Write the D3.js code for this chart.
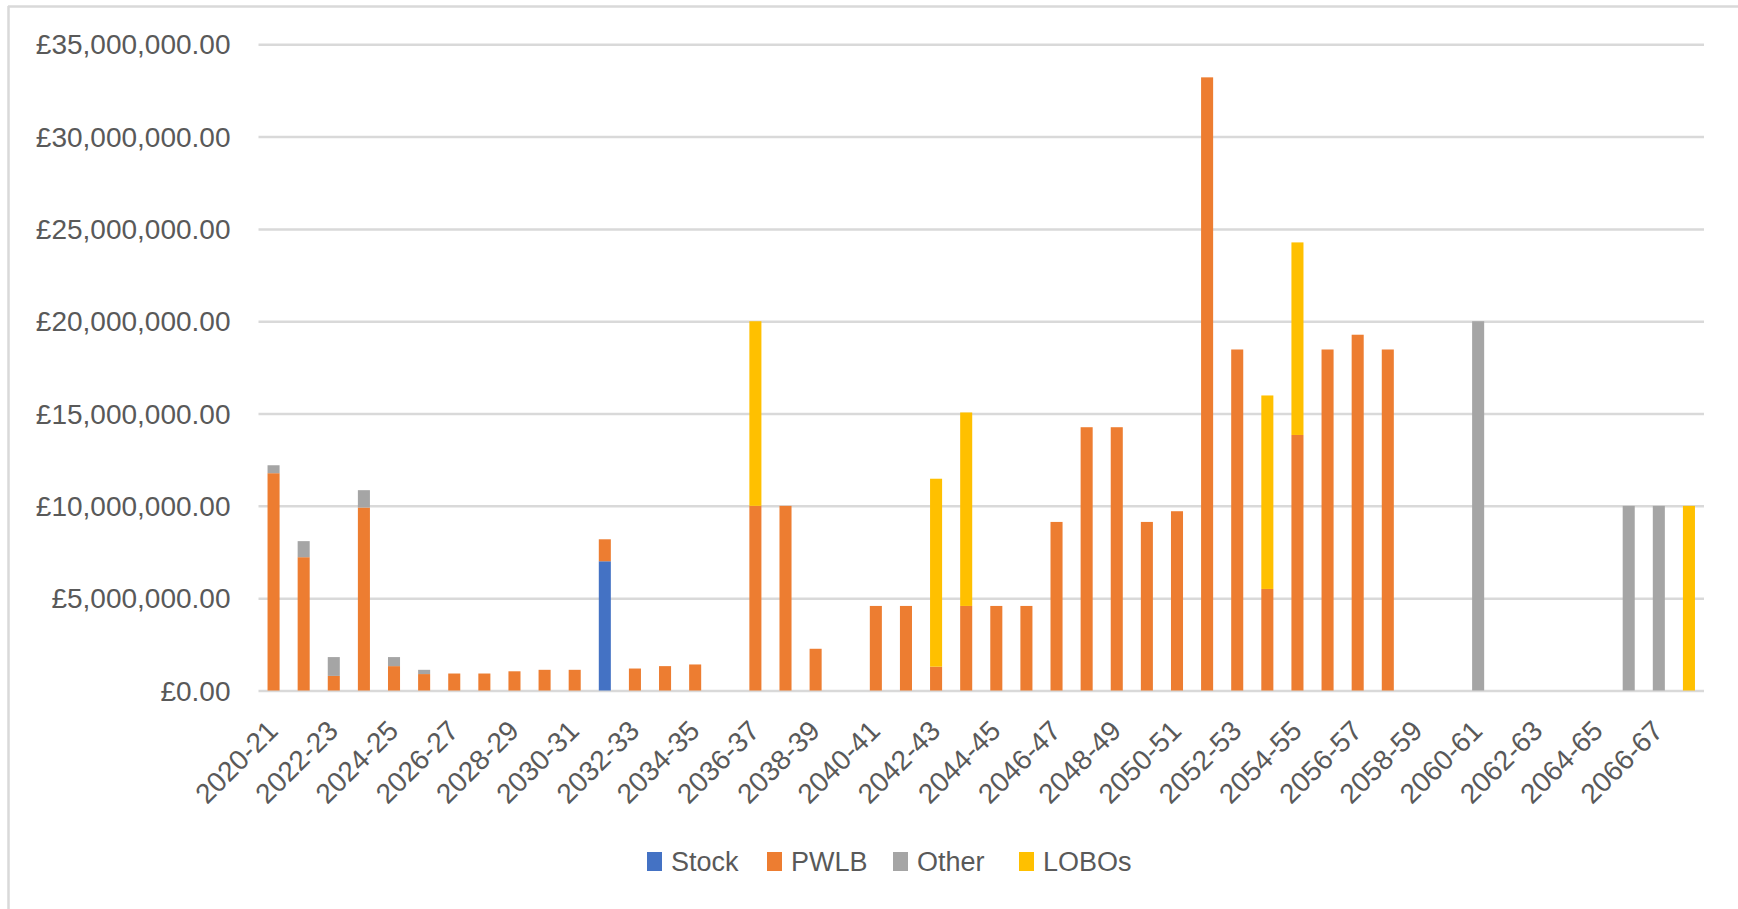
<!DOCTYPE html>
<html>
<head>
<meta charset="utf-8">
<script src="https://cdn.jsdelivr.net/npm/d3@7"></script>
<style>
  html, body { margin: 0; padding: 0; background: #ffffff; }
  svg { display: block; }
</style>
</head>
<body>
<svg id="chart" width="1738" height="909"></svg>
<script>
// ---- data (values in £) ----
const categories = [
  "2020-21","2021-22","2022-23","2023-24","2024-25","2025-26","2026-27","2027-28",
  "2028-29","2029-30","2030-31","2031-32","2032-33","2033-34","2034-35","2035-36",
  "2036-37","2037-38","2038-39","2039-40","2040-41","2041-42","2042-43","2043-44",
  "2044-45","2045-46","2046-47","2047-48","2048-49","2049-50","2050-51","2051-52",
  "2052-53","2053-54","2054-55","2055-56","2056-57","2057-58","2058-59","2059-60",
  "2060-61","2061-62","2062-63","2063-64","2064-65","2065-66","2066-67","2067-68"
];
const seriesNames = ["Stock", "PWLB", "Other", "LOBOs"];
const seriesColors = ["#4472C4", "#ED7D31", "#A5A5A5", "#FFC000"];

const stock = [
  0,0,0,0,0,0,0,0, 0,0,0,7000000,0,0,0,0,
  0,0,0,0,0,0,0,0, 0,0,0,0,0,0,0,0,
  0,0,0,0,0,0,0,0, 0,0,0,0,0,0,0,0
];
const pwlb = [
  11770000,7220000,790000,9910000,1320000,890000,920000,920000,
  1040000,1120000,1120000,1190000,1190000,1320000,1410000,0,
  10000000,10000000,2260000,0,4580000,4580000,1290000,4580000,
  4580000,4580000,9130000,14260000,14260000,9130000,9710000,33210000,
  18470000,5500000,13840000,18470000,19270000,18470000,0,0,
  0,0,0,0,0,0,0,0
];
const other = [
  430000,870000,1020000,940000,490000,230000,0,0,
  0,0,0,0,0,0,0,0,
  0,0,0,0,0,0,0,0, 0,0,0,0,0,0,0,0,
  0,0,0,0,0,0,0,0,
  20000000,0,0,0,0,10000000,10000000,0
];
const lobos = [
  0,0,0,0,0,0,0,0, 0,0,0,0,0,0,0,0,
  10000000,0,0,0,0,0,10180000,10480000,
  0,0,0,0,0,0,0,0,
  0,10480000,10430000,0,0,0,0,0,
  0,0,0,0,0,0,0,10000000
];
const yTicks = [0, 5000000, 10000000, 15000000, 20000000, 25000000, 30000000, 35000000];
const xTickLabels = categories.filter((d, i) => i % 2 === 0);

// ---- layout ----
const FONT = "'Liberation Sans', Arial, sans-serif";
const TEXT = "#595959";
const GRID = "#d9d9d9";
const plotLeft = 258.5, plotRight = 1704, plotTop = 44.3, plotBottom = 690.5;
const legendX = [647, 767, 893, 1019];

const svg = d3.select("#chart");

// outer chart border (only top and left visible)
svg.append("line").attr("x1", 8).attr("x2", 1738).attr("y1", 6.5).attr("y2", 6.5)
  .attr("stroke", GRID).attr("stroke-width", 2.5);
svg.append("line").attr("x1", 8.5).attr("x2", 8.5).attr("y1", 6).attr("y2", 909)
  .attr("stroke", GRID).attr("stroke-width", 2.5);

const x = d3.scaleBand().domain(categories).range([plotLeft, plotRight])
  .paddingInner(0.6).paddingOuter(0.3);
const y = d3.scaleLinear().domain([0, 35000000]).range([plotBottom, plotTop]);

// y axis with gridlines
const yAxis = d3.axisLeft(y)
  .tickValues(yTicks)
  .tickFormat(d => "£" + d3.format(",.2f")(d))
  .tickSize(-(plotRight - plotLeft))
  .tickPadding(28);
const gy = svg.append("g").attr("transform", `translate(${plotLeft},0)`).call(yAxis);
gy.select(".domain").remove();
gy.selectAll(".tick line").attr("stroke", GRID).attr("stroke-width", 2.5);
gy.selectAll(".tick text")
  .attr("fill", TEXT)
  .style("font-family", FONT)
  .style("font-size", "28px")
  .attr("dy", "0.34em");

// stacked bars
const rows = categories.map((c, i) => ({
  cat: c, Stock: stock[i], PWLB: pwlb[i], Other: other[i], LOBOs: lobos[i]
}));
const stacked = d3.stack().keys(seriesNames)(rows);
const color = d3.scaleOrdinal().domain(seriesNames).range(seriesColors);

svg.append("g").selectAll("g")
  .data(stacked)
  .join("g")
  .attr("fill", d => color(d.key))
  .selectAll("rect")
  .data(d => d.filter(p => p[1] - p[0] > 0))
  .join("rect")
  .attr("x", p => x(p.data.cat))
  .attr("width", x.bandwidth())
  .attr("y", p => y(p[1]))
  .attr("height", p => y(p[0]) - y(p[1]));

// x axis labels
const xAxis = d3.axisBottom(x).tickValues(xTickLabels).tickSize(0);
const gx = svg.append("g").attr("transform", `translate(0,${plotBottom})`).call(xAxis);
gx.select(".domain").remove();
gx.selectAll(".tick text")
  .attr("y", null)
  .attr("dy", null)
  .attr("text-anchor", "end")
  .attr("transform", "translate(6,42) rotate(-45)")
  .attr("fill", TEXT)
  .style("font-family", FONT)
  .style("font-size", "28px");

// legend
const legend = svg.append("g");
seriesNames.forEach((name, i) => {
  legend.append("rect")
    .attr("x", legendX[i]).attr("y", 852)
    .attr("width", 15).attr("height", 19)
    .attr("fill", seriesColors[i]);
  legend.append("text")
    .attr("x", legendX[i] + 24).attr("y", 871)
    .attr("fill", TEXT)
    .style("font-family", FONT)
    .style("font-size", "27px")
    .text(name);
});
</script>
</body>
</html>
